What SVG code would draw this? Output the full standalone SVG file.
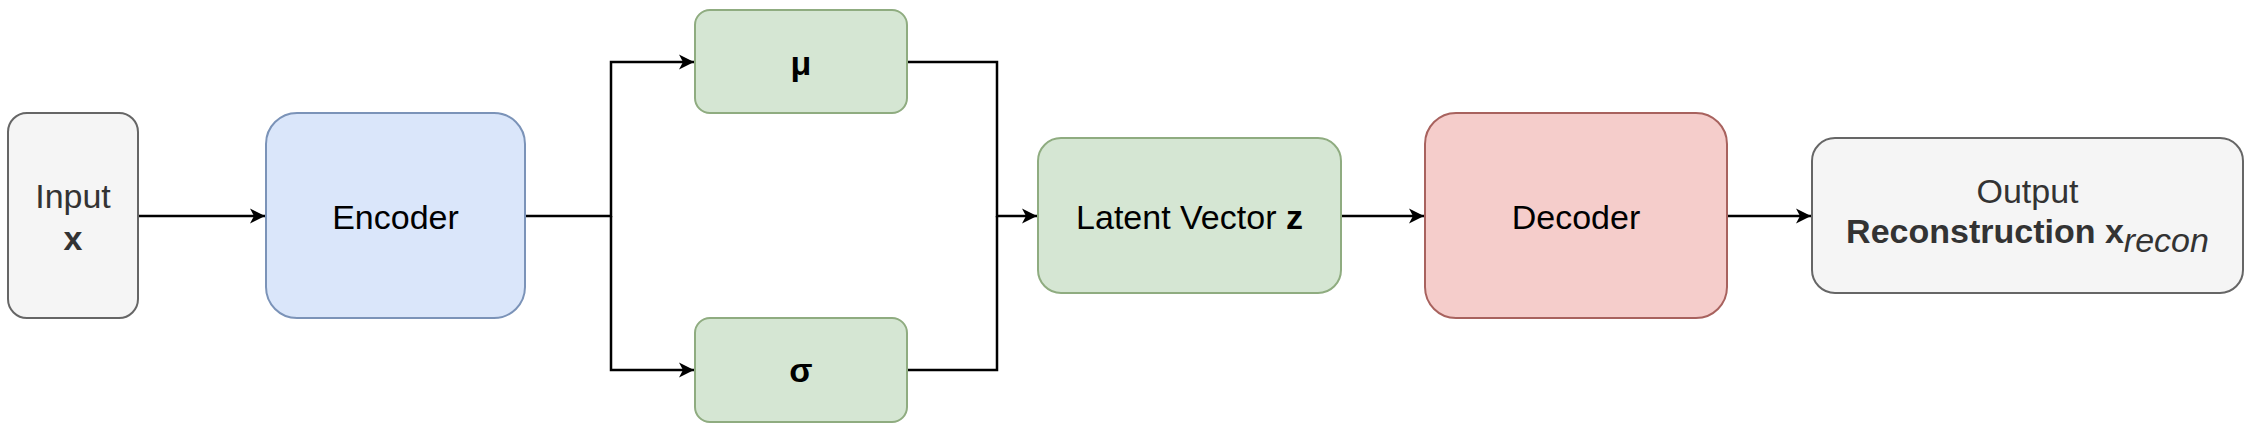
<svg xmlns="http://www.w3.org/2000/svg" width="2254" height="432" viewBox="0 0 2254 432">
  <style>
    .node rect { stroke-width: 2; }
    .gray rect { fill: #f5f5f5; stroke: #666666; }
    .blue rect { fill: #dae6fa; stroke: #7b93b8; }
    .green rect { fill: #d5e6d3; stroke: #8fac80; }
    .red rect { fill: #f5cdcb; stroke: #a8625e; }
    text { font-family: "Liberation Sans", Arial, Helvetica, sans-serif; font-size: 34px; text-anchor: middle; fill: #000000; }
    .gray text { fill: #333333; }
    .b { font-weight: bold; }
    .i { font-style: italic; }
    .edge { fill: none; stroke: #000000; stroke-width: 2.5; }
  </style>
  <defs>
    <marker id="arrow" viewBox="0 0 16 16" refX="15" refY="8" markerWidth="16" markerHeight="16" markerUnits="userSpaceOnUse" orient="auto">
      <path d="M0,0.5 L15,8 L0,15.5 L4,8 Z" fill="#000000"/>
    </marker>
  </defs>
  <rect width="2254" height="432" fill="#ffffff"/>

  <g id="connectors">
    <path class="edge" d="M138,216 L265,216" marker-end="url(#arrow)"/>
    <path class="edge" d="M525,216 L611,216 L611,62 L694,62" marker-end="url(#arrow)"/>
    <path class="edge" d="M611,216 L611,370 L694,370" marker-end="url(#arrow)"/>
    <path class="edge" d="M907,62 L997,62 L997,216 L1037,216" marker-end="url(#arrow)"/>
    <path class="edge" d="M907,370 L997,370 L997,216"/>
    <path class="edge" d="M1341,216 L1424,216" marker-end="url(#arrow)"/>
    <path class="edge" d="M1727,216 L1811,216" marker-end="url(#arrow)"/>
  </g>

  <g id="input" class="node gray">
    <rect x="8" y="113" width="130" height="205" rx="19" ry="19"/>
    <text x="73" y="208">Input</text>
    <text x="73" y="250" class="b">x</text>
  </g>

  <g id="encoder" class="node blue">
    <rect x="266" y="113" width="259" height="205" rx="31" ry="31"/>
    <text x="395.5" y="229">Encoder</text>
  </g>

  <g id="mu" class="node green">
    <rect x="695" y="10" width="212" height="103" rx="15" ry="15"/>
    <text x="801" y="75" class="b">μ</text>
  </g>

  <g id="sigma" class="node green">
    <rect x="695" y="318" width="212" height="104" rx="15" ry="15"/>
    <text x="801" y="382" class="b">σ</text>
  </g>

  <g id="latent" class="node green">
    <rect x="1038" y="138" width="303" height="155" rx="23" ry="23"/>
    <text x="1189.5" y="229">Latent Vector <tspan class="b">z</tspan></text>
  </g>

  <g id="decoder" class="node red">
    <rect x="1425" y="113" width="302" height="205" rx="31" ry="31"/>
    <text x="1576" y="229">Decoder</text>
  </g>

  <g id="output" class="node gray">
    <rect x="1812" y="138" width="431" height="155" rx="23" ry="23"/>
    <text x="2027.5" y="203">Output</text>
    <text x="2027.5" y="243"><tspan class="b">Reconstruction x</tspan><tspan class="i" dy="9">recon</tspan></text>
  </g>
</svg>
